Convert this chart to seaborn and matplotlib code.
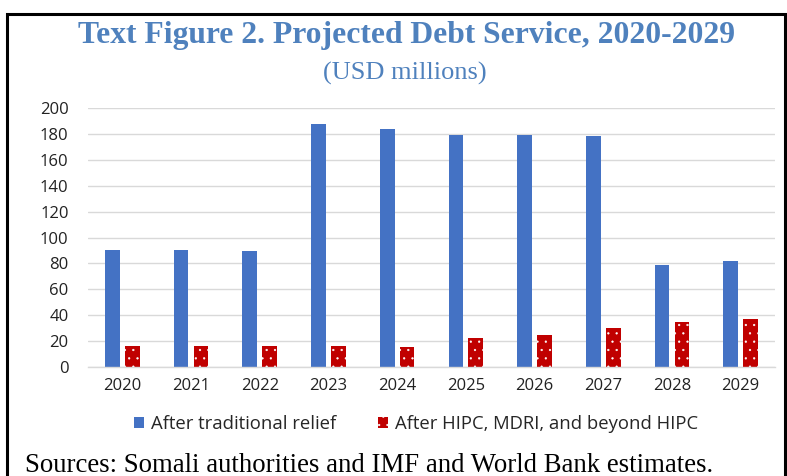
import matplotlib
matplotlib.use("Agg")
import matplotlib.pyplot as plt
import seaborn as sns
import pandas as pd
from matplotlib.patches import Rectangle, Patch

years = ["2020", "2021", "2022", "2023", "2024", "2025", "2026", "2027", "2028", "2029"]
traditional = [90.5, 90.5, 89.5, 187.5, 183.5, 179, 179, 178, 79, 82]
hipc = [16.5, 16.5, 16.5, 16.5, 15.5, 22.5, 25, 30, 35, 37]
series_names = ["After traditional relief", "After HIPC, MDRI, and beyond HIPC"]
yticks = list(range(0, 201, 20))

df = pd.DataFrame({
    "year": years * 2,
    "value": traditional + hipc,
    "series": [series_names[0]] * len(years) + [series_names[1]] * len(years),
})

sns.set_theme(style="white")
plt.rcParams["font.family"] = ["Open Sans", "DejaVu Sans"]
plt.rcParams["hatch.linewidth"] = 0.4
plt.rcParams["hatch.color"] = "white"

fig = plt.figure(figsize=(7.87, 4.76), dpi=100)
ax = fig.add_axes([88 / 787, 1 - 367 / 476, (775 - 88) / 787, (367 - 108) / 476])

blue = "#4472C4"
red = "#C00000"
sns.barplot(data=df, x="year", y="value", hue="series", order=years,
            hue_order=series_names, palette=[blue, red], width=0.58, gap=0.26,
            ax=ax, legend=False, saturation=1)

for p in ax.patches:
    if p.get_facecolor()[0] > 0.6:  # red bars
        p.set_hatch("..")
        p.set_edgecolor("white")
        p.set_linewidth(0)
        try:
            p.set_hatchcolor("white")
        except Exception:
            pass
    else:
        p.set_edgecolor("none")

ax.set_ylim(0, 200)
ax.set_yticks(yticks)
ax.set_xlim(-0.5, len(years) - 0.5)
ax.yaxis.grid(True, color="#d9d9d9", linewidth=1)
ax.set_axisbelow(True)
for s in ["top", "right", "left"]:
    ax.spines[s].set_visible(False)
ax.spines["bottom"].set_color("#d9d9d9")
ax.spines["bottom"].set_linewidth(1)
ax.set_xlabel("")
ax.set_ylabel("")
ax.tick_params(axis="both", length=0, labelsize=12, colors="#222222")
ax.tick_params(axis="y", pad=14)
ax.tick_params(axis="x", pad=8)

title_color = "#4F81BD"
fig.text(407 / 787, 1 - 36 / 476, "Text Figure 2. Projected Debt Service, 2020-2029",
         ha="center", va="center", fontsize=22.8, fontweight="bold",
         family="Liberation Serif", color=title_color)
fig.text(405 / 787, 1 - 73 / 476, "(USD millions)", ha="center", va="center",
         fontsize=19, family="Liberation Serif", color=title_color)

handles = [Patch(facecolor=blue, edgecolor="none"),
           Patch(facecolor=red, edgecolor="white", linewidth=0, hatch="..")]
fig.legend(handles, series_names, loc="center", bbox_to_anchor=(416 / 787, 1 - 424 / 476),
           ncol=2, frameon=False, fontsize=13.3, handlelength=0.55, handleheight=0.55,
           columnspacing=2.3, handletextpad=0.35)

fig.text(25 / 787, 1 - 465 / 476, "Sources: Somali authorities and IMF and World Bank estimates.",
         ha="left", va="center", fontsize=19.3, family="Liberation Serif", color="black")

fig.add_artist(Rectangle((7 / 787, -0.1), (785 - 7) / 787, 1.1 - 14 / 476,
                         transform=fig.transFigure, fill=False, edgecolor="black",
                         linewidth=2.2))

fig.savefig("out.png", dpi=100)
